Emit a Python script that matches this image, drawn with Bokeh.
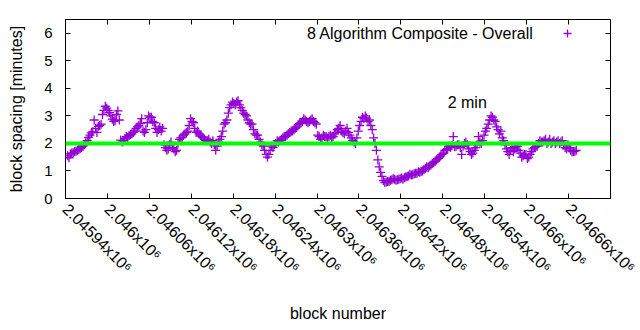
import math
from bokeh.plotting import figure
from bokeh.models import (Range1d, FixedTicker, LinearAxis, Span, Label,
                          Legend, LegendItem, ColumnDataSource, CustomJSTickFormatter)
from bokeh.embed import file_html
from bokeh.resources import INLINE

# ---- data ----
first_block = 2045943
block_step = 4
# samples at first_block + 4*i
spacing_minutes_a = [
    1.55, 1.62, 1.66, 1.72, 1.78, 1.85, 1.95, 2.10, 2.30, 2.42,
    2.55, 2.62, 2.70, 3.20, 3.28, 3.12, 2.88, 2.82, 3.18, 2.12,
    2.10, 2.25, 2.28, 2.35, 2.45, 2.60, 2.72, 2.45, 2.50, 3.00,
    2.95, 2.75, 2.40, 2.60, 2.55, 1.85, 1.80, 2.05, 1.80, 1.75,
    2.15, 2.22, 2.35, 2.45, 2.90, 2.75, 2.40, 2.35, 2.25, 2.15,
    2.10, 2.05, 2.10, 1.75, 2.05, 2.25, 2.70, 2.85, 3.30, 3.50,
    3.40, 3.55, 3.30, 3.10, 3.00, 2.75, 2.70, 2.35, 2.30, 2.05,
    1.90, 1.60, 1.60, 1.90, 1.95, 2.10, 2.10, 2.20, 2.25, 2.35,
    2.45, 2.50, 2.60, 2.72, 2.80, 2.85, 2.75, 2.85, 2.80, 2.70,
    2.25, 2.20, 2.25, 2.20, 2.30, 2.25, 2.40, 2.55, 2.45, 2.35,
    2.55, 2.30, 2.10, 2.00, 2.45, 2.80, 2.90, 2.92, 2.85, 2.50,
    2.00, 1.40, 0.95, 0.65, 0.60, 0.62, 0.68, 0.70, 0.68, 0.72,
    0.70, 0.78, 0.82, 0.85, 0.90, 0.92, 0.95, 1.00, 1.10, 1.12,
    1.22, 1.30, 1.40, 1.50, 1.60, 1.75, 1.80, 1.85, 2.25, 1.90,
    1.95, 1.60, 2.00, 1.95, 1.70, 1.65, 1.85, 2.25, 2.00, 2.30,
    2.55, 2.85, 2.95, 2.80, 2.50, 2.45, 2.10, 1.80, 1.60, 1.85,
    1.80, 1.90, 1.65, 1.55, 1.60, 1.50, 1.70, 1.85, 1.90, 2.10,
    2.05, 2.15, 2.05, 2.00, 2.10, 2.05, 2.00, 2.10, 1.85, 1.95,
    1.75, 1.70, 1.75,
]
# samples at first_block + 2 + 4*i
spacing_minutes_b = [
    1.48, 1.65, 1.70, 1.75, 1.82, 1.90, 2.02, 2.22, 2.38, 2.85,
    2.40, 2.65, 3.05, 3.35, 3.20, 3.00, 2.80, 3.05, 2.85, 2.05,
    2.18, 2.22, 2.32, 2.40, 2.55, 2.65, 2.90, 2.40, 2.75, 2.95,
    2.80, 2.55, 2.50, 2.45, 1.95, 1.75, 1.95, 1.85, 1.70, 2.00,
    2.20, 2.30, 2.40, 2.65, 2.80, 2.55, 2.45, 2.30, 2.20, 2.10,
    2.15, 2.00, 1.95, 1.90, 2.15, 2.45, 2.75, 3.10, 3.40, 3.45,
    3.50, 3.40, 3.20, 3.05, 2.85, 2.70, 2.50, 2.30, 2.15, 1.95,
    1.75, 1.50, 1.75, 1.85, 2.00, 2.05, 2.15, 2.25, 2.30, 2.40,
    2.45, 2.55, 2.68, 2.75, 2.90, 2.80, 2.80, 2.90, 2.75, 2.30,
    2.15, 2.30, 2.25, 2.25, 2.20, 2.35, 2.50, 2.65, 2.40, 2.45,
    2.40, 2.20, 2.05, 2.20, 2.65, 2.95, 3.00, 2.80, 2.65, 2.20,
    1.75, 1.15, 0.80, 0.58, 0.62, 0.66, 0.72, 0.66, 0.70, 0.74,
    0.75, 0.80, 0.88, 0.86, 0.92, 0.97, 0.98, 1.05, 1.15, 1.18,
    1.28, 1.35, 1.45, 1.55, 1.65, 1.78, 1.90, 1.92, 1.88, 1.95,
    1.85, 1.90, 2.05, 1.80, 1.60, 1.75, 1.95, 2.05, 2.10, 2.45,
    2.70, 3.00, 2.85, 2.60, 2.35, 2.20, 1.95, 1.70, 1.75, 1.70,
    1.88, 1.75, 1.50, 1.60, 1.45, 1.60, 1.80, 1.88, 2.00, 2.05,
    2.10, 2.00, 2.15, 2.05, 2.00, 2.10, 2.05, 1.95, 1.80, 1.85,
    1.70, 1.72,
]
blocks_a = [first_block + block_step * i for i in range(len(spacing_minutes_a))]
blocks_b = [first_block + 2 + block_step * i for i in range(len(spacing_minutes_b))]

x_ticks = [2045940, 2046000, 2046060, 2046120, 2046180, 2046240, 2046300,
           2046360, 2046420, 2046480, 2046540, 2046600, 2046660, 2046720]
x_tick_labels = ["2.04594", "2.046", "2.04606", "2.04612", "2.04618", "2.04624",
                 "2.0463", "2.04636", "2.04642", "2.04648", "2.04654", "2.0466",
                 "2.04666", "2.04672"]
x_label_suffix = "x10\u2076"
y_ticks = [0, 1, 2, 3, 4, 5, 6]
target_minutes = 2
series_name = "8 Algorithm Composite - Overall"
target_label = "2 min"

FONT = "Liberation Sans"
PURPLE = "#9400d3"

p = figure(width=640, height=330, output_backend="svg", toolbar_location=None,
           x_range=Range1d(2045940, 2046720), y_range=Range1d(0, 6.5),
           min_border_left=65, min_border_right=30, min_border_top=19,
           min_border_bottom=132)
p.xgrid.visible = False
p.ygrid.visible = False
p.outline_line_color = "black"
p.outline_line_width = 1
p.background_fill_color = "white"
p.border_fill_color = "white"

src = ColumnDataSource(dict(x=blocks_a + blocks_b, y=spacing_minutes_a + spacing_minutes_b))
r = p.scatter("x", "y", source=src, marker="cross", size=9, line_width=1.3,
              line_color=PURPLE)

# target line
p.add_layout(Span(location=target_minutes, dimension="width",
                  line_color="#00ff00", line_width=4))

yt = FixedTicker(ticks=y_ticks)

# the last tick (at the frame's right edge) has its label off the page in the
# reference; its tick mark is drawn by the mirrored top axis
xa = p.xaxis[0]
xa.ticker = FixedTicker(ticks=x_ticks[:-1])
xa.major_label_overrides = {t: lab + x_label_suffix
                            for t, lab in zip(x_ticks[:-1], x_tick_labels[:-1])}
xa.major_label_orientation = -math.pi / 4
xa.axis_label = "block number"

ya = p.yaxis[0]
ya.ticker = yt
ya.axis_label = "block spacing [minutes]"

for ax in (xa, ya):
    ax.axis_line_color = None
    ax.major_tick_in = 5
    ax.major_tick_out = 0
    ax.minor_tick_line_color = None
    ax.major_tick_line_color = "black"
    ax.major_label_text_font = FONT
    ax.major_label_text_font_size = "15px"
    ax.major_label_text_color = "black"
    ax.axis_label_text_font = FONT
    ax.axis_label_text_font_size = "16px"
    ax.axis_label_text_font_style = "normal"
    ax.axis_label_text_color = "black"

xa.major_label_text_font_size = "16px"
ya.major_label_standoff = 13
ya.axis_label_standoff = 16
xa.major_label_standoff = 8
xa.axis_label_standoff = 20

# mirrored ticks (top / right), no labels
blank = CustomJSTickFormatter(code="return ''")
top = LinearAxis(ticker=FixedTicker(ticks=x_ticks), formatter=blank, axis_line_color=None,
                 major_tick_in=5, major_tick_out=0, minor_tick_line_color=None,
                 major_label_standoff=0)
right = LinearAxis(ticker=yt, formatter=blank, axis_line_color=None,
                   major_tick_in=5, major_tick_out=0, minor_tick_line_color=None,
                   major_label_standoff=0)
p.add_layout(top, "above")
p.add_layout(right, "right")

# key text (gnuplot style: text then sample)
p.add_layout(Label(x=2046610, y=6.0, text=series_name, text_align="right",
                   text_baseline="middle", text_font=FONT, text_font_size="16px",
                   text_color="black"))
leg = Legend(items=[LegendItem(label="", renderers=[r])], location=(492, 155),
             padding=0, margin=0, spacing=0, glyph_width=20, glyph_height=20,
             label_standoff=0, border_line_color=None, background_fill_alpha=0,
             label_width=0)
p.add_layout(leg)

p.add_layout(Label(x=2046487, y=3.5, text=target_label, text_align="left",
                   text_baseline="middle", text_font=FONT, text_font_size="16px",
                   text_color="black"))

open("out.html", "w").write(file_html(p, INLINE))
